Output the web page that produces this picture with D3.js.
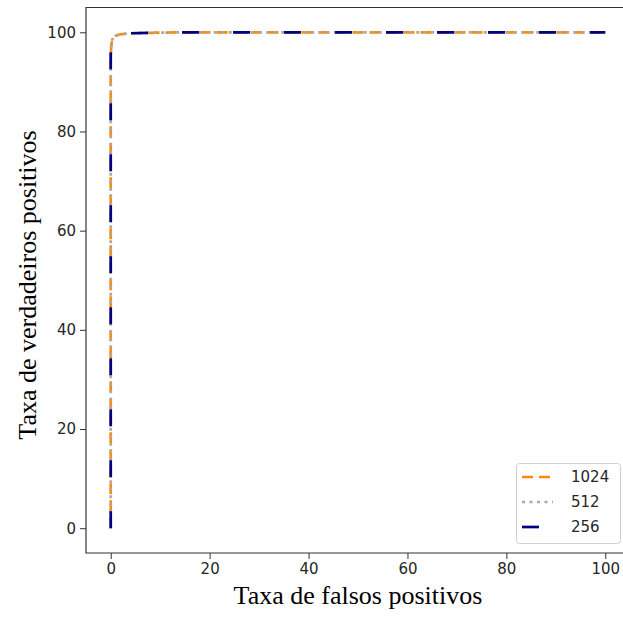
<!DOCTYPE html>
<html>
<head>
<meta charset="utf-8">
<script src="https://cdn.jsdelivr.net/npm/d3@7"></script>
<style>
  body { margin: 0; background: #fff; }
  svg { display: block; }
</style>
</head>
<body>
<div id="chart"></div>
<script>
// ROC curves, rates in percent
const series = ['1024', '512', '256'];
const fpr1024 = [0, 0, 0, 0.1, 0.3, 0.6, 1, 2, 4, 8, 15, 30, 60, 100];
const tpr1024 = [0, 50, 95, 97.3, 98.4, 99.0, 99.3, 99.6, 99.8, 99.9, 100, 100, 100, 100];
const fpr512 = [0, 0, 0, 0.1, 0.3, 0.6, 1, 2, 4, 8, 15, 30, 60, 100];
const tpr512 = [0, 50, 95.2, 97.4, 98.5, 99.1, 99.35, 99.6, 99.8, 99.9, 100, 100, 100, 100];
const fpr256 = [0, 0, 0, 0.1, 0.3, 0.6, 1, 2, 4, 8, 15, 30, 60, 100];
const tpr256 = [0, 50, 95.5, 97.6, 98.6, 99.1, 99.4, 99.65, 99.8, 99.9, 100, 100, 100, 100];
const xTicks = [0, 20, 40, 60, 80, 100];
const yTicks = [0, 20, 40, 60, 80, 100];

const width = 623, height = 619;
const plotLeft = 86, plotTop = 7.5, plotW = 544, plotH = 545.5;
const tickFont = '15px';

const svg = d3.select('#chart').append('svg').attr('width', width).attr('height', height);

const x = d3.scaleLinear().domain([-5, 105]).range([plotLeft, plotLeft + plotW]);
const y = d3.scaleLinear().domain([-5, 105]).range([plotTop + plotH, plotTop]);

const styles = {
  '1024': {color: '#ff8c00', dash: '11,6'},
  '512': {color: '#a9a9a9', dash: '3,4.5'},
  '256': {color: '#000080', dash: '17,34'}
};
const curves = {
  '1024': fpr1024.map((v, i) => [v, tpr1024[i]]),
  '512': fpr512.map((v, i) => [v, tpr512[i]]),
  '256': fpr256.map((v, i) => [v, tpr256[i]])
};

const line = d3.line().x(d => x(d[0])).y(d => y(d[1]));

svg.append('g').selectAll('path').data(series).enter().append('path')
  .attr('d', s => line(curves[s]))
  .attr('fill', 'none')
  .attr('stroke', s => styles[s].color)
  .attr('stroke-width', 2.7)
  .attr('stroke-dasharray', s => styles[s].dash);

// axes
const xAxis = svg.append('g').attr('transform', `translate(0,${plotTop + plotH})`)
  .call(d3.axisBottom(x).tickValues(xTicks).tickSize(6).tickPadding(4));
const yAxis = svg.append('g').attr('transform', `translate(${plotLeft},0)`)
  .call(d3.axisLeft(y).tickValues(yTicks).tickSize(6).tickPadding(4));
[xAxis, yAxis].forEach(a => {
  a.select('.domain').remove();
  a.selectAll('line').attr('stroke', '#333');
  a.selectAll('text').attr('fill', '#262626')
    .style('font-family', 'DejaVu Sans').style('font-size', tickFont);
});

// frame (right side falls outside the window)
svg.append('path')
  .attr('d', `M${plotLeft + plotW},${plotTop}H${plotLeft}V${plotTop + plotH}H${plotLeft + plotW}`)
  .attr('fill', 'none').attr('stroke', '#333').attr('stroke-width', 1.2);

svg.append('text')
  .attr('x', 358).attr('y', 604)
  .attr('text-anchor', 'middle')
  .style('font-family', 'Liberation Serif').style('font-size', '26px')
  .text('Taxa de falsos positivos');

svg.append('text')
  .attr('transform', `translate(36,285) rotate(-90)`)
  .attr('text-anchor', 'middle')
  .style('font-family', 'Liberation Serif').style('font-size', '26px')
  .text('Taxa de verdadeiros positivos');

// legend
const legend = svg.append('g');
legend.append('rect')
  .attr('x', 516.5).attr('y', 463.5).attr('width', 104).attr('height', 80).attr('rx', 3)
  .attr('fill', '#fff').attr('fill-opacity', 0.8)
  .attr('stroke', '#d0d0d0');
const rows = legend.selectAll('g.row').data(series).enter().append('g')
  .attr('transform', (d, i) => `translate(0,${477 + i * 25})`);
rows.append('line')
  .attr('x1', 522).attr('x2', 553)
  .attr('stroke', s => styles[s].color)
  .attr('stroke-width', 2.7)
  .attr('stroke-dasharray', s => styles[s].dash);
rows.append('text')
  .attr('x', 571).attr('dy', '0.35em')
  .style('font-family', 'DejaVu Sans').style('font-size', tickFont)
  .attr('fill', '#262626')
  .text(d => d);
</script>
</body>
</html>
